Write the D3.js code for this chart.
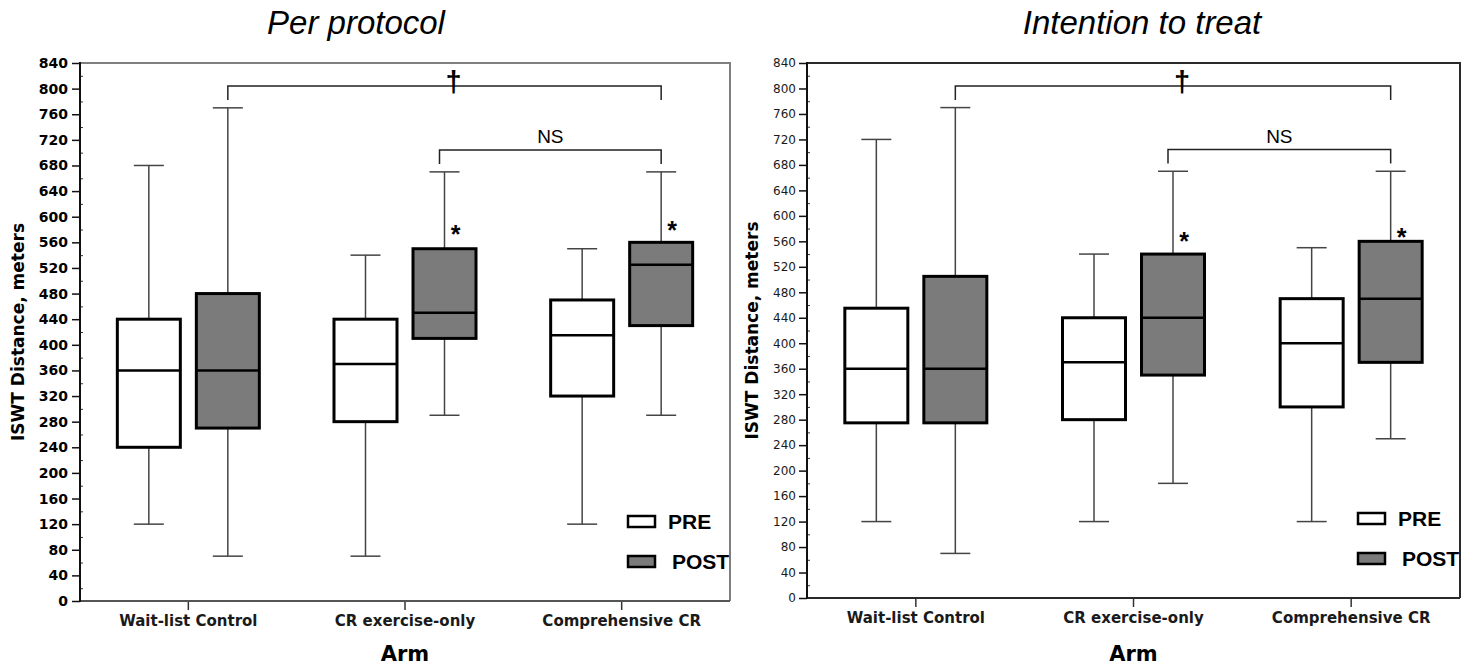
<!DOCTYPE html>
<meta charset="utf-8">
<script src="https://cdn.jsdelivr.net/npm/d3@7"></script>
<style>
body { margin: 0; background: #fff; }
text { font-family: "DejaVu Sans", Verdana, sans-serif; }
</style>
<svg id="chart" width="1477" height="667"></svg>
<script>
// categories and tick values
const arms = ["Wait-list Control", "CR exercise-only", "Comprehensive CR"];
const phases = ["PRE", "POST"];
const yTicks = d3.range(0, 841, 40);
const titles = ["Per protocol", "Intention to treat"];

// box stats per arm: [min, q1, median, q3, max]
const ppPre   = [[120, 240, 360, 440, 680], [70, 280, 370, 440, 540], [120, 320, 415, 470, 550]];
const ppPost  = [[70, 270, 360, 480, 770], [290, 410, 450, 550, 670], [290, 430, 525, 560, 670]];
const ittPre  = [[120, 275, 360, 455, 720], [120, 280, 370, 440, 540], [120, 300, 400, 470, 550]];
const ittPost = [[70, 275, 360, 505, 770], [180, 350, 440, 540, 670], [250, 370, 470, 560, 670]];

// significance marks
const bracketFrom  = [0, 1];
const bracketTo    = [2, 2];
const bracketValue = [804, 704];
const bracketLabel = ["\u2020", "NS"];
const ppStar  = [null, 582, 588];
const ittStar = [null, 570, 577];

const svg = d3.select("#chart");

const panels = [
  { pre: ppPre, post: ppPost, star: ppStar, title: titles[0],
    x0: 80, x1: 730, top: 63, bottom: 601, titleX: 356, frame: "#7f7f7f", bottomCol: "#555",
    tickFont: "bold 14px 'DejaVu Sans'", tickCol: "#000", tickSize: 8, tickPad: 4, yTitleX: 18 },
  { pre: ittPre, post: ittPost, star: ittStar, title: titles[1],
    x0: 807, x1: 1460, top: 63, bottom: 598, titleX: 1142, frame: "#2a2a2a", bottomCol: "#2a2a2a",
    tickFont: "12px 'DejaVu Sans'", tickCol: "#1a1a1a", tickSize: 8, tickPad: 3, yTitleX: 752 }
];

const off = 39.5, boxW = 63, capW = 30;

panels.forEach(p => {
  const g = svg.append("g");
  const x = d3.scaleBand().domain(arms).range([p.x0, p.x1]);
  const y = d3.scaleLinear().domain([0, 840]).range([p.bottom, p.top]);
  const cx = (i, ph) => x(arms[i]) + x.bandwidth() / 2 + (ph === "PRE" ? -off : off);

  // title
  g.append("text")
    .attr("x", p.titleX).attr("y", 34)
    .attr("text-anchor", "middle")
    .style("font-family", "'Liberation Sans', Arial, sans-serif")
    .style("font-style", "italic")
    .style("font-size", "33px")
    .text(p.title);

  // frame top/right
  g.append("path")
    .attr("d", `M${p.x0},${p.top}H${p.x1}V${p.bottom}`)
    .attr("fill", "none").attr("stroke", p.frame).attr("stroke-width", 2);

  // y axis
  const ya = g.append("g").attr("transform", `translate(${p.x0},0)`)
    .call(d3.axisLeft(y).tickValues(yTicks).tickSize(p.tickSize).tickPadding(p.tickPad));
  ya.select(".domain").remove();
  ya.selectAll("line").attr("stroke", "#111").attr("stroke-width", 1.5);
  ya.selectAll("text").style("font", p.tickFont).attr("fill", p.tickCol);

  const minor = g.append("g").attr("transform", `translate(${p.x0},0)`)
    .call(d3.axisRight(y).tickValues(d3.range(20, 840, 40)).tickSize(3).tickFormat(""));
  minor.select(".domain").remove();
  minor.selectAll("line").attr("stroke", "#333");

  // x axis
  const xa = g.append("g").attr("transform", `translate(0,${p.bottom})`)
    .call(d3.axisBottom(x).tickSize(9).tickPadding(5));
  xa.select(".domain").remove();
  xa.selectAll("line").attr("stroke", "#333").attr("stroke-width", 1.5);
  xa.selectAll("text").style("font", "bold 15px 'DejaVu Sans'").attr("fill", "#1a1a1a");

  g.append("line").attr("x1", p.x0).attr("x2", p.x1).attr("y1", p.bottom).attr("y2", p.bottom)
    .attr("stroke", p.bottomCol).attr("stroke-width", 2);
  g.append("line").attr("x1", p.x0).attr("x2", p.x0).attr("y1", p.top - 1).attr("y2", p.bottom + 1)
    .attr("stroke", "#111").attr("stroke-width", 2);

  // axis titles
  g.append("text")
    .attr("transform", `translate(${p.yTitleX},${(p.top + p.bottom) / 2}) rotate(-90)`)
    .attr("text-anchor", "middle").attr("dy", "0.35em")
    .style("font-weight", "bold").style("font-size", "17px")
    .text("ISWT Distance, meters");
  g.append("text")
    .attr("x", (p.x0 + p.x1) / 2).attr("y", 661)
    .attr("text-anchor", "middle")
    .style("font-weight", "bold").style("font-size", "21px")
    .text("Arm");

  // boxes
  const boxes = [];
  arms.forEach((a, i) => {
    boxes.push({ i, ph: "PRE", s: p.pre[i] });
    boxes.push({ i, ph: "POST", s: p.post[i] });
  });
  const bg = g.selectAll(".box").data(boxes).join("g").attr("class", "box");
  bg.append("line")
    .attr("x1", d => cx(d.i, d.ph)).attr("x2", d => cx(d.i, d.ph))
    .attr("y1", d => y(d.s[0])).attr("y2", d => y(d.s[4]))
    .attr("stroke", "#444").attr("stroke-width", 1.5);
  bg.selectAll(".cap").data(d => [d.s[0], d.s[4]].map(v => ({ v, d })))
    .join("line")
    .attr("x1", e => cx(e.d.i, e.d.ph) - capW / 2).attr("x2", e => cx(e.d.i, e.d.ph) + capW / 2)
    .attr("y1", e => y(e.v)).attr("y2", e => y(e.v))
    .attr("stroke", "#444").attr("stroke-width", 1.5);
  bg.append("rect")
    .attr("x", d => cx(d.i, d.ph) - boxW / 2).attr("width", boxW)
    .attr("y", d => y(d.s[3])).attr("height", d => y(d.s[1]) - y(d.s[3]))
    .attr("fill", d => d.ph === "PRE" ? "#fff" : "#7b7b7b")
    .attr("stroke", "#000").attr("stroke-width", 3);
  bg.append("line")
    .attr("x1", d => cx(d.i, d.ph) - boxW / 2).attr("x2", d => cx(d.i, d.ph) + boxW / 2)
    .attr("y1", d => y(d.s[2])).attr("y2", d => y(d.s[2]))
    .attr("stroke", "#000").attr("stroke-width", 2.5);

  // asterisks
  p.star.forEach((v, i) => {
    if (v == null) return;
    g.append("text")
      .attr("x", cx(i, "POST") + 11).attr("y", y(v)).attr("dy", "0.6em")
      .attr("text-anchor", "middle")
      .style("font-family", "'Liberation Sans', Arial, sans-serif")
      .style("font-weight", "bold").style("font-size", "25px")
      .text("*");
  });

  // brackets
  bracketValue.forEach((v, k) => {
    const xa1 = cx(bracketFrom[k], "POST") - (k === 1 ? 5 : 0);
    const xb = cx(bracketTo[k], "POST");
    const yy = y(v);
    g.append("path")
      .attr("d", `M${xa1},${yy + 14}V${yy}H${xb}V${yy + 14}`)
      .attr("fill", "none").attr("stroke", "#222").attr("stroke-width", 1.5);
    const lab = g.append("text")
      .attr("text-anchor", "middle")
      .style("font-family", "'Liberation Sans', Arial, sans-serif")
      .text(bracketLabel[k]);
    if (k === 0) {
      lab.attr("x", (xa1 + xb) / 2 + 9).attr("y", yy + 6)
        .style("font-size", "29px").style("font-weight", "bold");
    } else {
      lab.attr("x", (xa1 + xb) / 2).attr("y", yy - 7).style("font-size", "19px");
    }
  });

  // legend
  const lx = p.x1 - 102, ly = p.bottom - 85;
  phases.forEach((ph, k) => {
    g.append("rect")
      .attr("x", lx).attr("y", ly + k * 40).attr("width", 27).attr("height", 11)
      .attr("fill", ph === "PRE" ? "#fff" : "#7b7b7b")
      .attr("stroke", "#000").attr("stroke-width", 2.5);
    g.append("text")
      .attr("x", lx + 40 + k * 4).attr("y", ly + k * 40 + 13)
      .style("font-family", "'Liberation Sans', Arial, sans-serif")
      .style("font-weight", "bold").style("font-size", "21px")
      .text(ph);
  });
});
</script>
